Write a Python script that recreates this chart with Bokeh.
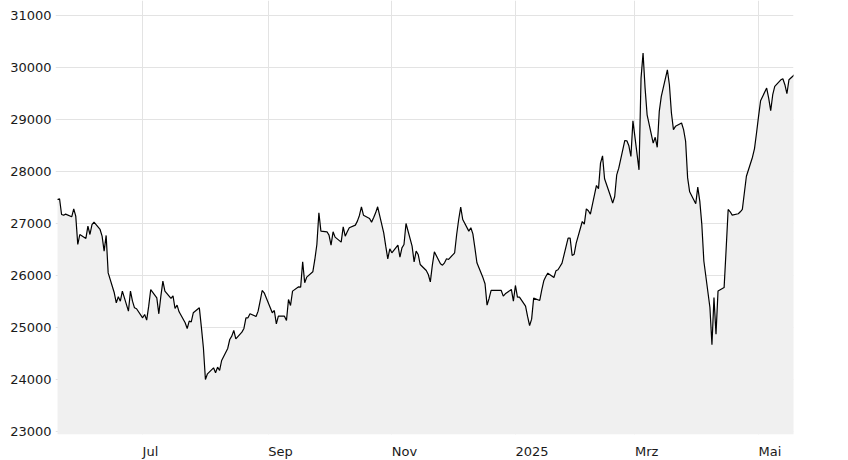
import pandas as pd
from bokeh.plotting import figure
from bokeh.layouts import column
from bokeh.models import Range1d, FixedTicker, ColumnDataSource
from bokeh.core.properties import value
from bokeh.embed import file_html
from bokeh.resources import INLINE

values = [
    27460, 27475, 27173, 27160, 27180, 27128, 27282, 27141, 26596, 26788,
    26712, 26950, 26788, 26980, 27025, 26885, 26756, 26468, 26770, 26050,
    25667, 25474, 25590, 25506, 25700, 25314, 25700, 25506, 25378, 25360,
    25186, 25250, 25141, 25410, 25730, 25570, 25263, 25603, 25890, 25700,
    25558,
    25609, 25365, 25429, 25301, 25090, 24981, 25122, 25109, 25282, 25378,
    25006, 24609, 24000, 24109, 24224, 24128, 24237, 24173, 24365, 24596,
    24769, 24833, 24942, 24782, 24910, 24981, 25186, 25186, 25263, 25211,
    25314, 25506, 25711, 25667, 25378, 25282, 25327, 25071, 25218, 25218,
    25135, 25538,
    25423, 25699, 25782, 25776, 26263, 25859, 25968, 26071, 26308, 26596,
    27205, 26853, 26840, 26776, 26583, 26840, 26737, 26641, 26936, 26756,
    26840, 26917, 26968, 27045, 27154, 27321, 27160, 27096, 27026, 27109,
    27205, 27321, 26821, 26564, 26321, 26513, 26436, 26583, 26353, 26532,
    26596, 27000,
    26564, 26263, 26468, 26404, 26212, 26096, 26019, 25878, 26199, 26455,
    26224, 26199, 26244, 26321, 26308, 26436, 26788, 27077, 27314, 27077,
    26853, 26917, 26801, 26532, 26244, 25955, 25840, 25429, 25558, 25712,
    25712, 25712, 25712, 25603, 25648, 25731, 25506, 25808, 25583, 25583,
    25410,
    25212, 25038, 25160, 25564, 25519, 25724, 25897, 25981, 26045, 25962,
    26090, 26109, 26173, 26237, 26718, 26718, 26385, 26410, 26622, 27038,
    26987, 27282, 27244, 27179, 27731, 27667, 28160, 28301, 27859, 27519,
    27391, 27519, 27936, 28064, 28596, 28590, 28494, 28288, 28974, 28032,
    29795, 30276, 29603, 29090, 28545,
    28657, 28465, 29156, 29444, 29955, 29668, 29124, 28804, 28868, 28932,
    28804, 28581, 27877, 27609, 27379, 27698, 27430, 26982, 26279, 25384,
    24668, 25575, 24872, 25703, 25767, 26503, 27270, 27225, 27161, 27187,
    27225, 27270, 27590, 27909, 28274, 28440, 28740, 29060, 29361, 29604,
    29412, 29169, 29476, 29636, 29763, 29783, 29668, 29495, 29763, 29872,
]
start_date = "2024-05-20"
dates = pd.bdate_range(start_date, periods=len(values))

tick_dates = ["2024-07-01", "2024-09-01", "2024-11-01", "2025-01-01", "2025-03-01", "2025-05-01"]
tick_labels = ["Jul", "Sep", "Nov", "2025", "Mrz", "Mai"]
y_ticks = [23000, 24000, 25000, 26000, 27000, 28000, 29000, 30000, 31000]

y_lo, y_hi = 22942, 31288
FONT = "DejaVu Sans"
TXT = "#1a1a1a"

src = ColumnDataSource(dict(x=dates, y=values, base=[y_lo] * len(values)))
xr = Range1d(pd.Timestamp("2024-05-19 00:00"), pd.Timestamp("2025-05-18 06:00"))

p = figure(
    x_axis_type="datetime",
    frame_width=738, frame_height=434,
    min_border_left=55, min_border_right=47, min_border_top=0, min_border_bottom=8,
    x_range=xr, y_range=Range1d(y_lo, y_hi),
    output_backend="svg", toolbar_location=None,
)

p.varea(x="x", y1="base", y2="y", source=src, fill_color="#f0f0f0")
p.line(x="x", y="y", source=src, line_color="#000000", line_width=1.2)

tick_ms = [pd.Timestamp(d).timestamp() * 1000.0 for d in tick_dates]
p.xaxis.visible = False
p.xgrid.ticker = FixedTicker(ticks=tick_ms)

p.yaxis.ticker = FixedTicker(ticks=y_ticks)
p.ygrid.ticker = FixedTicker(ticks=y_ticks)
ax = p.yaxis[0]
ax.axis_line_color = None
ax.major_tick_line_color = None
ax.minor_tick_line_color = None
ax.major_tick_out = 0
ax.major_label_text_font = FONT
ax.major_label_text_font_size = "13px"
ax.major_label_text_color = TXT
ax.major_label_standoff = 4

p.grid.grid_line_color = "#e3e3e3"
p.grid.grid_line_width = 1
p.outline_line_color = None
p.background_fill_color = "#ffffff"
p.border_fill_color = "#ffffff"

# x labels strip (left-aligned at each tick), sharing the x range
q = figure(
    x_axis_type="datetime",
    frame_width=738, frame_height=18,
    min_border_left=55, min_border_right=47, min_border_top=0, min_border_bottom=0,
    x_range=xr, y_range=Range1d(0, 18),
    output_backend="svg", toolbar_location=None,
)
lab_src = ColumnDataSource(dict(x=tick_ms, y=[9] * len(tick_ms), text=tick_labels))
q.text(x="x", y="y", text="text", source=lab_src, text_align="left", text_baseline="middle",
       text_font=value(FONT), text_font_size="13px", text_color=TXT)
q.axis.visible = False
q.grid.visible = False
q.outline_line_color = None
q.border_fill_color = "#ffffff"
q.background_fill_color = "#ffffff"

layout = column(p, q, spacing=0)
open("out.html", "w").write(file_html(layout, INLINE))
